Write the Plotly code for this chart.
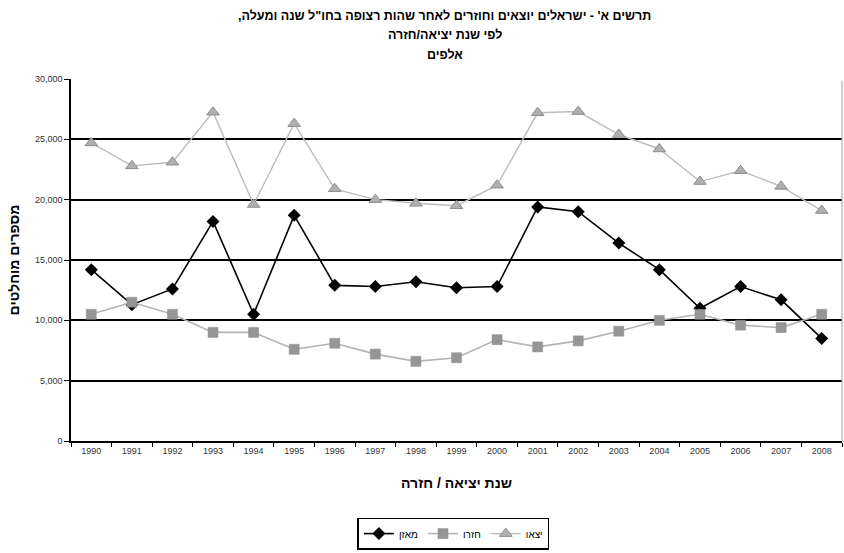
import plotly.graph_objects as go

# Israelis leaving and returning after a continuous stay abroad of a year or more
years = [str(y) for y in range(1990, 2009)]

# יצאו - departed
departed = [24700, 22800, 23100, 27250, 19600, 26300, 20900, 20000, 19700, 19500,
            21200, 27200, 27300, 25400, 24200, 21500, 22400, 21100, 19100]
# חזרו - returned
returned = [10500, 11500, 10500, 9000, 9000, 7600, 8100, 7200, 6600, 6900,
            8400, 7800, 8300, 9100, 10000, 10500, 9600, 9400, 10500]
# מאזן - balance
balance = [14200, 11300, 12600, 18200, 10500, 18700, 12900, 12800, 13200, 12700,
           12800, 19400, 19000, 16400, 14200, 11000, 12800, 11700, 8500]

y_ticks = [0, 5000, 10000, 15000, 20000, 25000, 30000]

title_lines = [
    "תרשים א' - ישראלים יוצאים וחוזרים לאחר שהות רצופה בחו\"ל שנה ומעלה,",
    "לפי שנת יציאה/חזרה",
    "אלפים",
]

RLM = "\u200f"
FONT = "Liberation Sans, Arial, sans-serif"

fig = go.Figure()

fig.add_trace(go.Scatter(
    x=years, y=balance, name="מאזן", mode="lines+markers",
    line=dict(color="#000000", width=1.6),
    marker=dict(symbol="diamond", size=10, color="#000000"),
))
fig.add_trace(go.Scatter(
    x=years, y=returned, name="חזרו", mode="lines+markers",
    line=dict(color="#b4b4b4", width=1.6),
    marker=dict(symbol="square", size=10, color="#969696",
                line=dict(color="#8a8a8a", width=0.5)),
))
fig.add_trace(go.Scatter(
    x=years, y=departed, name="יצאו", mode="lines+markers",
    line=dict(color="#bdbdbd", width=1.4),
    marker=dict(symbol="triangle-up", size=11, color="#b0b0b0",
                line=dict(color="#8c8c8c", width=1)),
))

# Three centred title lines placed above the plot area
title_y = [1.174, 1.121, 1.066]
annotations = [
    dict(text=line + RLM, xref="paper", yref="paper", x=0.485, y=yy,
         xanchor="center", yanchor="middle", showarrow=False,
         font=dict(size=12.5, family=FONT, weight="bold", color="#000000"))
    for line, yy in zip(title_lines, title_y)
]

fig.update_layout(
    width=844, height=553,
    margin=dict(l=71, r=2, t=79, b=112, autoexpand=False),
    paper_bgcolor="white", plot_bgcolor="white",
    font=dict(family=FONT, color="#000000"),
    annotations=annotations,
    showlegend=True,
    legend=dict(
        orientation="h", x=0.496, xanchor="center", y=-0.3, yanchor="bottom",
        bordercolor="#000000", borderwidth=1.5,
        font=dict(size=10, family=FONT), itemwidth=30, tracegroupgap=0,
    ),
    xaxis=dict(
        type="category", range=[-0.5, 18.5], automargin=False,
        showline=True, linecolor="#000000", linewidth=1.5,
        ticks="outside", tickson="boundaries", ticklen=4, tickcolor="#000000",
        tickwidth=1.3,
        tickfont=dict(size=9, color="#333333"),
        showgrid=False,
        title=dict(text="שנת יציאה / חזרה", standoff=24,
                   font=dict(size=14, family=FONT, weight="bold")),
    ),
    yaxis=dict(
        range=[0, 30000], tickvals=y_ticks, tickformat=",d", automargin=False,
        showline=True, linecolor="#000000", linewidth=1.5,
        ticks="outside", ticklen=5, tickcolor="#000000", tickwidth=1.3,
        tickfont=dict(size=9, color="#333333"),
        showgrid=True, gridcolor="#000000", gridwidth=1.5,
        zeroline=False,
        title=dict(text="מספרים מוחלטים", standoff=12,
                   font=dict(size=14, family=FONT, weight="bold")),
    ),
    shapes=[dict(type="line", xref="paper", yref="paper", x0=1, x1=1, y0=0, y1=0.995,
                 line=dict(color="#a0a0a0", width=1))],
)

fig.write_html("out.html")
